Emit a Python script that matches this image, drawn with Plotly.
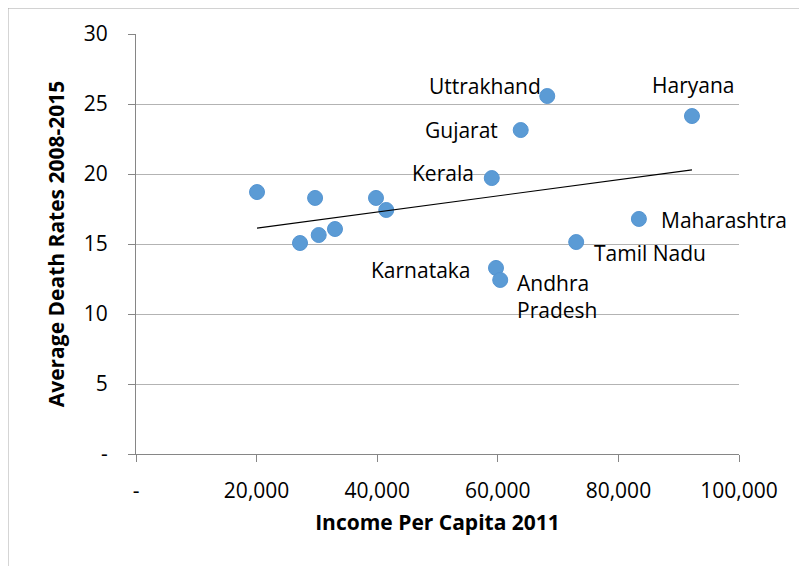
import numpy as np
import plotly.graph_objects as go

# Data
income = [20070, 27200, 29700, 30300, 33000, 39800, 41500,
          59000, 59700, 60400, 63800, 68200, 73000, 83400, 92200]
death_rate = [18.71, 15.07, 18.29, 15.64, 16.07, 18.29, 17.43,
              19.71, 13.29, 12.43, 23.14, 25.57, 15.14, 16.79, 24.14]
state_labels = ["", "", "", "", "", "", "",
                "Kerala", "Karnataka", "Andhra<br>Pradesh", "Gujarat",
                "Uttrakhand", "Tamil Nadu", "Maharashtra", "Haryana"]

x_tickvals = [0, 20000, 40000, 60000, 80000, 100000]
x_ticktext = ["-", "20,000", "40,000", "60,000", "80,000", "100,000"]
y_tickvals = [0, 5, 10, 15, 20, 25, 30]
y_ticktext = ["-", "5", "10", "15", "20", "25", "30"]

# label placement style (anchor, x offset px, y offset px)
label_style = {
    "Kerala": ("right", "middle", -16, 5),
    "Karnataka": ("right", "middle", -23, -2),
    "Andhra<br>Pradesh": ("left", "middle", 15, -17),
    "Gujarat": ("right", "middle", -21, 0),
    "Uttrakhand": ("right", "middle", -4, 10),
    "Tamil Nadu": ("left", "middle", 16, -11),
    "Maharashtra": ("left", "middle", 20, -1),
    "Haryana": ("center", "middle", 1, 31),
}

FONT = "'Open Sans', Lato, sans-serif"

fig = go.Figure()

fig.add_trace(go.Scatter(
    x=income, y=death_rate, mode="markers",
    marker=dict(size=15, color="#5b9bd5", line=dict(color="#5595d2", width=1)),
    showlegend=False, hoverinfo="skip"))

# linear trendline
coef = np.polyfit(income, death_rate, 1)
xs = np.array([min(income), max(income)])
fig.add_trace(go.Scatter(
    x=xs, y=np.polyval(coef, xs), mode="lines",
    line=dict(color="black", width=1.2), showlegend=False, hoverinfo="skip"))

for xv, yv, lab in zip(income, death_rate, state_labels):
    if not lab:
        continue
    xa, ya, dx, dy = label_style[lab]
    fig.add_annotation(x=xv, y=yv, text=lab, showarrow=False,
                       font=dict(family=FONT, size=21, color="black"),
                       align="left", xanchor=xa, yanchor=ya,
                       xshift=dx, yshift=dy)

# outer chart border
fig.add_shape(type="rect", xref="paper", yref="paper",
              x0=-0.2123, x1=1.3, y0=-0.5, y1=1.0619,
              line=dict(color="#a6a6a6", width=1), layer="below")

fig.update_layout(
    width=807, height=566,
    margin=dict(l=128, r=76, t=26, b=120),
    paper_bgcolor="white", plot_bgcolor="white",
    font=dict(family=FONT, size=21, color="black"),
    xaxis=dict(range=[0, 100000], tickvals=x_tickvals, ticktext=x_ticktext,
               showgrid=False, zeroline=False,
               showline=True, linecolor="#868686", linewidth=1,
               ticks="outside", ticklen=7, tickcolor="#868686",
               ticklabelstandoff=11,
               title=dict(text="<b>Income Per Capita 2011</b>",
                          font=dict(family=FONT, size=21), standoff=12)),
    yaxis=dict(range=[0, 30], tickvals=y_tickvals, ticktext=y_ticktext,
               showgrid=True, gridcolor="#b3b3b3", gridwidth=1.3,
               zeroline=False,
               showline=True, linecolor="#868686", linewidth=1,
               ticks="outside", ticklen=7, tickcolor="#868686",
               ticklabelstandoff=16,
               title=dict(text="<b>Average Death Rates 2008-2015</b>",
                          font=dict(family=FONT, size=21), standoff=13)),
)

fig.write_html("out.html")
